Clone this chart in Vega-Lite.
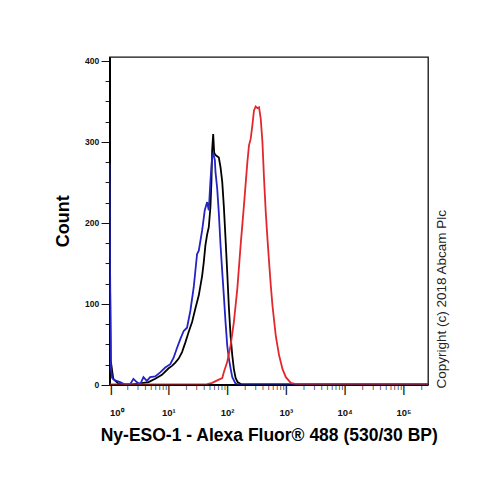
{
  "$schema": "https://vega.github.io/schema/vega-lite/v6.json",
  "width": 318.5,
  "height": 327.5,
  "autosize": {"type": "none"},
  "padding": {"left": 109.5, "top": 57, "right": 76, "bottom": 94.5},
  "background": "white",
  "config": {"view": {"stroke": "#111111", "strokeWidth": 1.3}, "font": "Liberation Sans"},
  "title": {"text": "Copyright (c) 2018 Abcam Plc", "orient": "right", "angle": 270, "anchor": "end", "align": "left", "baseline": "top", "offset": -16, "dx": -4, "fontSize": 13.5, "fontWeight": "normal", "font": "Liberation Sans", "color": "#222222", "frame": "group"},
  "datasets": {
    "hist": [
      {"s": "Isotype control", "x": 1, "c": 260}, {"s": "Isotype control", "x": 1.047, "c": 30}, {"s": "Isotype control", "x": 1.16, "c": 7}, {"s": "Isotype control", "x": 1.416, "c": 1}, {"s": "Isotype control", "x": 1.84, "c": 0}, {"s": "Isotype control", "x": 2.39, "c": 0}, {"s": "Isotype control", "x": 3.11, "c": 1}, {"s": "Isotype control", "x": 4.61, "c": 3}, {"s": "Isotype control", "x": 6.0, "c": 7}, {"s": "Isotype control", "x": 7.8, "c": 12}, {"s": "Isotype control", "x": 10.14, "c": 20}, {"s": "Isotype control", "x": 11.56, "c": 23}, {"s": "Isotype control", "x": 13.18, "c": 27}, {"s": "Isotype control", "x": 15.03, "c": 32}, {"s": "Isotype control", "x": 17.14, "c": 40}, {"s": "Isotype control", "x": 19.54, "c": 52}, {"s": "Isotype control", "x": 22.28, "c": 65}, {"s": "Isotype control", "x": 25.41, "c": 77}, {"s": "Isotype control", "x": 28.97, "c": 94}, {"s": "Isotype control", "x": 33.04, "c": 110}, {"s": "Isotype control", "x": 37.67, "c": 134}, {"s": "Isotype control", "x": 40.18, "c": 151}, {"s": "Isotype control", "x": 42.85, "c": 172}, {"s": "Isotype control", "x": 45.81, "c": 185}, {"s": "Isotype control", "x": 48.87, "c": 194}, {"s": "Isotype control", "x": 52.24, "c": 220}, {"s": "Isotype control", "x": 54.33, "c": 252}, {"s": "Isotype control", "x": 55.72, "c": 289}, {"s": "Isotype control", "x": 58.08, "c": 309}, {"s": "Isotype control", "x": 60.39, "c": 286}, {"s": "Isotype control", "x": 63.53, "c": 283}, {"s": "Isotype control", "x": 72.44, "c": 280}, {"s": "Isotype control", "x": 77.4, "c": 268}, {"s": "Isotype control", "x": 82.8, "c": 250}, {"s": "Isotype control", "x": 88.1, "c": 220}, {"s": "Isotype control", "x": 94.2, "c": 180}, {"s": "Isotype control", "x": 100.7, "c": 138}, {"s": "Isotype control", "x": 107.4, "c": 95}, {"s": "Isotype control", "x": 114.8, "c": 60}, {"s": "Isotype control", "x": 122.7, "c": 36}, {"s": "Isotype control", "x": 130.6, "c": 19}, {"s": "Isotype control", "x": 139.7, "c": 8}, {"s": "Isotype control", "x": 151, "c": 3}, {"s": "Isotype control", "x": 177, "c": 0}, {"s": "Isotype control", "x": 262144, "c": 0},
      {"s": "Unlabelled", "x": 1, "c": 273}, {"s": "Unlabelled", "x": 1.023, "c": 120}, {"s": "Unlabelled", "x": 1.059, "c": 20}, {"s": "Unlabelled", "x": 1.109, "c": 8}, {"s": "Unlabelled", "x": 1.24, "c": 5}, {"s": "Unlabelled", "x": 1.51, "c": 3}, {"s": "Unlabelled", "x": 1.84, "c": 0}, {"s": "Unlabelled", "x": 2.24, "c": 0}, {"s": "Unlabelled", "x": 2.55, "c": 7}, {"s": "Unlabelled", "x": 2.91, "c": 3}, {"s": "Unlabelled", "x": 3.32, "c": 0}, {"s": "Unlabelled", "x": 3.78, "c": 9}, {"s": "Unlabelled", "x": 4.32, "c": 4.5}, {"s": "Unlabelled", "x": 4.92, "c": 9}, {"s": "Unlabelled", "x": 6.0, "c": 10}, {"s": "Unlabelled", "x": 7.29, "c": 15}, {"s": "Unlabelled", "x": 8.89, "c": 21}, {"s": "Unlabelled", "x": 10.81, "c": 25}, {"s": "Unlabelled", "x": 12.33, "c": 33}, {"s": "Unlabelled", "x": 14.06, "c": 45}, {"s": "Unlabelled", "x": 16.03, "c": 56}, {"s": "Unlabelled", "x": 18.28, "c": 66}, {"s": "Unlabelled", "x": 20.84, "c": 70}, {"s": "Unlabelled", "x": 23.77, "c": 91}, {"s": "Unlabelled", "x": 27.1, "c": 120}, {"s": "Unlabelled", "x": 30.9, "c": 161}, {"s": "Unlabelled", "x": 33.04, "c": 165}, {"s": "Unlabelled", "x": 37.67, "c": 190}, {"s": "Unlabelled", "x": 41.78, "c": 215}, {"s": "Unlabelled", "x": 45.81, "c": 225}, {"s": "Unlabelled", "x": 48.87, "c": 215}, {"s": "Unlabelled", "x": 52.24, "c": 252}, {"s": "Unlabelled", "x": 55.72, "c": 281}, {"s": "Unlabelled", "x": 58.08, "c": 285}, {"s": "Unlabelled", "x": 61.94, "c": 277}, {"s": "Unlabelled", "x": 63.6, "c": 262}, {"s": "Unlabelled", "x": 67.9, "c": 242}, {"s": "Unlabelled", "x": 72.4, "c": 212}, {"s": "Unlabelled", "x": 77.4, "c": 172}, {"s": "Unlabelled", "x": 82.8, "c": 139}, {"s": "Unlabelled", "x": 88.1, "c": 110}, {"s": "Unlabelled", "x": 94.2, "c": 77}, {"s": "Unlabelled", "x": 100.7, "c": 48}, {"s": "Unlabelled", "x": 107.4, "c": 32}, {"s": "Unlabelled", "x": 114.8, "c": 20}, {"s": "Unlabelled", "x": 122.7, "c": 9}, {"s": "Unlabelled", "x": 139.7, "c": 1}, {"s": "Unlabelled", "x": 157, "c": 0}, {"s": "Unlabelled", "x": 262144, "c": 0},
      {"s": "Ny-ESO-1", "x": 1, "c": 0}, {"s": "Ny-ESO-1", "x": 42.9, "c": 0}, {"s": "Ny-ESO-1", "x": 55.8, "c": 2}, {"s": "Ny-ESO-1", "x": 72.4, "c": 6}, {"s": "Ny-ESO-1", "x": 82.8, "c": 8}, {"s": "Ny-ESO-1", "x": 88.1, "c": 15}, {"s": "Ny-ESO-1", "x": 100.7, "c": 28}, {"s": "Ny-ESO-1", "x": 114.8, "c": 48}, {"s": "Ny-ESO-1", "x": 130.6, "c": 77}, {"s": "Ny-ESO-1", "x": 149.4, "c": 118}, {"s": "Ny-ESO-1", "x": 170.2, "c": 172}, {"s": "Ny-ESO-1", "x": 193.8, "c": 221}, {"s": "Ny-ESO-1", "x": 221.4, "c": 274}, {"s": "Ny-ESO-1", "x": 235.9, "c": 295}, {"s": "Ny-ESO-1", "x": 252.3, "c": 303}, {"s": "Ny-ESO-1", "x": 269.8, "c": 320}, {"s": "Ny-ESO-1", "x": 287.1, "c": 338}, {"s": "Ny-ESO-1", "x": 306.9, "c": 343}, {"s": "Ny-ESO-1", "x": 328.2, "c": 341}, {"s": "Ny-ESO-1", "x": 349.9, "c": 342}, {"s": "Ny-ESO-1", "x": 374, "c": 328}, {"s": "Ny-ESO-1", "x": 399.9, "c": 299}, {"s": "Ny-ESO-1", "x": 425.6, "c": 254}, {"s": "Ny-ESO-1", "x": 455, "c": 213}, {"s": "Ny-ESO-1", "x": 486.5, "c": 180}, {"s": "Ny-ESO-1", "x": 518.8, "c": 151}, {"s": "Ny-ESO-1", "x": 554.6, "c": 122}, {"s": "Ny-ESO-1", "x": 592.9, "c": 97}, {"s": "Ny-ESO-1", "x": 674.5, "c": 60}, {"s": "Ny-ESO-1", "x": 767.4, "c": 36}, {"s": "Ny-ESO-1", "x": 879, "c": 19}, {"s": "Ny-ESO-1", "x": 1000, "c": 9}, {"s": "Ny-ESO-1", "x": 1216, "c": 2}, {"s": "Ny-ESO-1", "x": 1483, "c": 0.5}, {"s": "Ny-ESO-1", "x": 1950, "c": 0}, {"s": "Ny-ESO-1", "x": 262144, "c": 0}
    ]
  },
  "data": {"name": "hist"},
  "mark": {"type": "line", "strokeWidth": 1.8, "clip": true},
  "encoding": {
    "x": {
      "field": "x", "type": "quantitative",
      "scale": {"type": "log", "domain": [1, 262144]},
      "axis": {
        "title": "Ny-ESO-1 - Alexa Fluor® 488 (530/30 BP)",
        "values": [1,2,3,4,5,6,7,8,9,10,20,30,40,50,60,70,80,90,100,200,300,400,500,600,700,800,900,1000,2000,3000,4000,5000,6000,7000,8000,9000,10000,20000,30000,40000,50000,60000,70000,80000,90000,100000,200000],
        "grid": false,
        "ticks": false,
        "domainColor": "#000000", "domainWidth": 2,
        "labelExpr": "abs(log(datum.value)/LN10 - round(log(datum.value)/LN10)) < 0.001 ? ['|', '10' + ['⁰','¹','²','³','⁴','⁵'][round(log(datum.value)/LN10)]] : '|'",
        "labelFont": "Liberation Sans", "labelFontWeight": "bold", "labelColor": "#111111",
        "labelFontSize": {"condition": {"test": "abs(log(datum.value)/LN10 - round(log(datum.value)/LN10)) < 0.001", "value": 9.5}, "value": 5},
        "labelLineHeight": 23,
        "labelBaseline": "top",
        "labelPadding": 0, "labelFlush": true, "labelOverlap": false, "labelBound": false,
        "titleFont": "Liberation Sans", "titleFontSize": 17.5, "titleFontWeight": "bold", "titleColor": "#000000", "titlePadding": 9
      }
    },
    "y": {
      "field": "c", "type": "quantitative",
      "scale": {"domain": [0, 404], "nice": false},
      "axis": {
        "title": "Count",
        "values": [0,25,50,75,100,125,150,175,200,225,250,275,300,325,350,375,400],
        "grid": false,
        "ticks": false,
        "domainColor": "#000000", "domainWidth": 2,
        "labelExpr": "datum.value % 100 == 0 ? datum.label + ' —' : '–'",
        "labelFont": "Liberation Sans", "labelFontSize": 8.5, "labelFontWeight": "bold", "labelColor": "#111111",
        "labelPadding": 0, "labelOverlap": false, "labelFlush": false, "labelBound": false,
        "titleFont": "Liberation Sans", "titleFontSize": 18, "titleFontWeight": "bold", "titleColor": "#000000", "titlePadding": 12
      }
    },
    "color": {
      "field": "s", "type": "nominal",
      "scale": {"domain": ["Isotype control", "Unlabelled", "Ny-ESO-1"], "range": ["#000000", "#2323c6", "#e2282c"]},
      "legend": null
    }
  }
}
